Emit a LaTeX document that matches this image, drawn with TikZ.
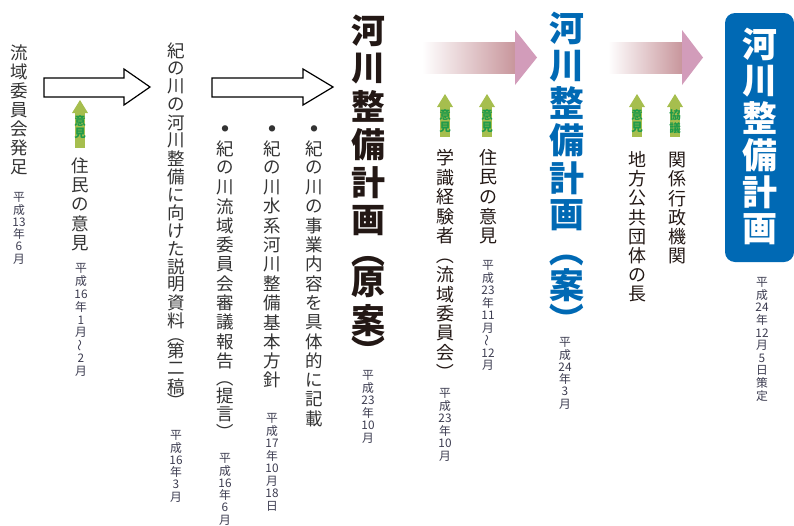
\documentclass[tikz,border=0pt]{standalone}
\usepackage{fontspec}
\setmainfont{Noto Sans CJK JP}
\usetikzlibrary{calc}
\definecolor{maintext}{HTML}{333333}
\definecolor{titletext}{HTML}{231815}
\definecolor{datetext}{HTML}{3C3C50}
\definecolor{kblue}{HTML}{0069B4}
\definecolor{gtext}{HTML}{1E9A4A}
\definecolor{gshaft}{HTML}{A6BE4E}
\definecolor{rose}{HTML}{C8969C}
\definecolor{mauve}{HTML}{D29CBA}
\newcommand\vLP{}
\newcommand\vRP{}
\newcommand\vWV{}
\newcommand\bul{\fontsize{7}{7}\selectfont ●}
\ExplSyntaxOn
\dim_new:N \l_vt_pitch_dim
\cs_new_protected:Npn \vt_cell:nn #1#2
 {
  \vbox_to_ht:nn { #1 \l_vt_pitch_dim }
   { \vss \hbox_to_wd:nn { 1.3em } { \hss #2 \hss } \vss }
 }
\NewDocumentCommand \vt { O{0.65} m m }
 {
  \dim_set:Nn \l_vt_pitch_dim {#2pt}
  \vbox:n
   {
    \offinterlineskip
    \tl_map_inline:nn {#3}
     {
      \tl_if_eq:nnTF {##1} {\vLP}
       { \vt_cell:nn {#1} { \rotatebox[origin=c]{-90}{（} } }
       {
        \tl_if_eq:nnTF {##1} {\vRP}
         { \vt_cell:nn {#1} { \rotatebox[origin=c]{-90}{）} } }
         {
          \tl_if_eq:nnTF {##1} {\vWV}
           { \vt_cell:nn {1} { \rotatebox[origin=c]{90}{〜} } }
           { \vt_cell:nn {1} {##1} }
         }
       }
     }
   }
 }
\ExplSyntaxOff
\tikzset{
  col/.style={inner sep=0pt, anchor=north, text=maintext, font=\fontsize{17.5}{17.5}\selectfont},
  col2/.style={inner sep=0pt, anchor=north, text=titletext, font=\fontsize{18}{18}\selectfont},
  dat/.style={inner sep=0pt, anchor=north, text=datetext, font=\fontsize{11.8}{11.8}\selectfont},
  big/.style={inner sep=0pt, anchor=north, text=titletext, font=\fontsize{34}{34}\selectfont\bfseries},
  glabel/.style={inner sep=0pt, anchor=north, text=gtext, font=\fontsize{11.5}{11.5}\selectfont\bfseries},
  outl/.style={draw=black, line width=1.2pt, fill=white, line join=miter},
}
\newcommand\garrow[5]{%
  \fill[gshaft] (#2-5,#3+13) rectangle (#2+5,#4);
  \fill[gshaft] (#2-8,#3+13) -- (#2,#3) -- (#2+8,#3+13) -- cycle;
  \node[glabel] (#1) at (#2,#3+14) {\vt{13}{#5}};
}
\begin{document}
\begin{tikzpicture}[x=1pt,y=-1pt]
\useasboundingbox (0,0) rectangle (794,525);
% outline arrows
\draw[outl] (44,78) -- (124,78) -- (124,69) -- (150,87) -- (124,105) -- (124,97) -- (44,97) -- cycle;
\draw[outl] (212,78) -- (303,78) -- (303,69) -- (333,87) -- (303,105) -- (303,97) -- (212,97) -- cycle;
% gradient arrows
\shade[left color=white, right color=rose] (422,42) rectangle (515,73);
\fill[mauve] (515,30) -- (537,57.5) -- (515,85) -- cycle;
\shade[left color=white, right color=rose] (608,42) rectangle (682,73);
\fill[mauve] (682,30) -- (703,57.5) -- (682,85) -- cycle;
% columns
\node[col] (c1) at (19,43.5) {\vt{19}{流域委員会発足}};
\node[dat] (d1) at (19,191) {\vt{12.3}{平成{13}年6月}};
\node[col] (c2) at (80,155.5) {\vt{19.5}{住民の意見}};
\node[dat] (d2) at (81,262) {\vt{12.8}{平成{16}年1月\vWV 2月}};
\node[col] (c3) at (176,41.5) {\vt{18}{紀の川の河川整備に向けた説明資料\vLP 第二稿\vRP}};
\node[dat] (d3) at (176,429) {\vt{12.3}{平成{16}年3月}};
\node[col] (c4) at (225,119.3) {\vt[0.8]{19.3}{{\bul}紀の川流域委員会審議報告\vLP 提言\vRP}};
\node[dat] (d4) at (225,452) {\vt{12.3}{平成{16}年6月}};
\node[col] (c5) at (272,119.3) {\vt{19.3}{{\bul}紀の川水系河川整備基本方針}};
\node[dat] (d5) at (272,412) {\vt{12.5}{平成{17}年{10}月{18}日}};
\node[col] (c6) at (314,119.3) {\vt{19.3}{{\bul}紀の川の事業内容を具体的に記載}};
\node[big] (p1) at (368,11.5) {\vt[0.63]{38}{河川整備計画\vLP 原案\vRP}};
\node[dat] (d7) at (368,369) {\vt{12.5}{平成{23}年{10}月}};
\node[col2] (c8) at (445,148) {\vt[1]{19.5}{学識経験者\vLP 流域委員会\vRP}};
\node[dat] (d8) at (445,387) {\vt{12.5}{平成{23}年{10}月}};
\node[col2] (c9) at (488,148) {\vt{19.5}{住民の意見}};
\node[dat] (d9) at (488,259) {\vt{12.5}{平成{23}年{11}月\vWV{12}月}};
\node[big, text=kblue, font=\fontsize{35}{35}\selectfont\bfseries] (p2) at (567,9.5) {\vt[0.87]{37.4}{河川整備計画\vLP 案\vRP}};
\node[dat] (d10) at (565,336) {\vt{12.3}{平成{24}年3月}};
\node[col2] (c11) at (637,150) {\vt{19.2}{地方公共団体の長}};
\node[col2] (c12) at (677,150) {\vt{19.2}{関係行政機関}};
% final plan box
\fill[kblue, rounded corners=10pt] (725,13) rectangle (794,262);
\node[big, text=white, font=\fontsize{35}{35}\selectfont\bfseries] (p3) at (760,25.5) {\vt{37}{河川整備計画}};
\node[dat] (d13) at (762,276) {\vt{12.6}{平成{24}年{12}月5日策定}};
% green arrows
\garrow{g1}{80}{100}{148}{意見}
\garrow{g2}{445}{94}{137}{意見}
\garrow{g3}{487}{94}{137}{意見}
\garrow{g4}{637}{94}{137}{意見}
\garrow{g5}{675}{94}{137}{協議}
\end{tikzpicture}
\end{document}
